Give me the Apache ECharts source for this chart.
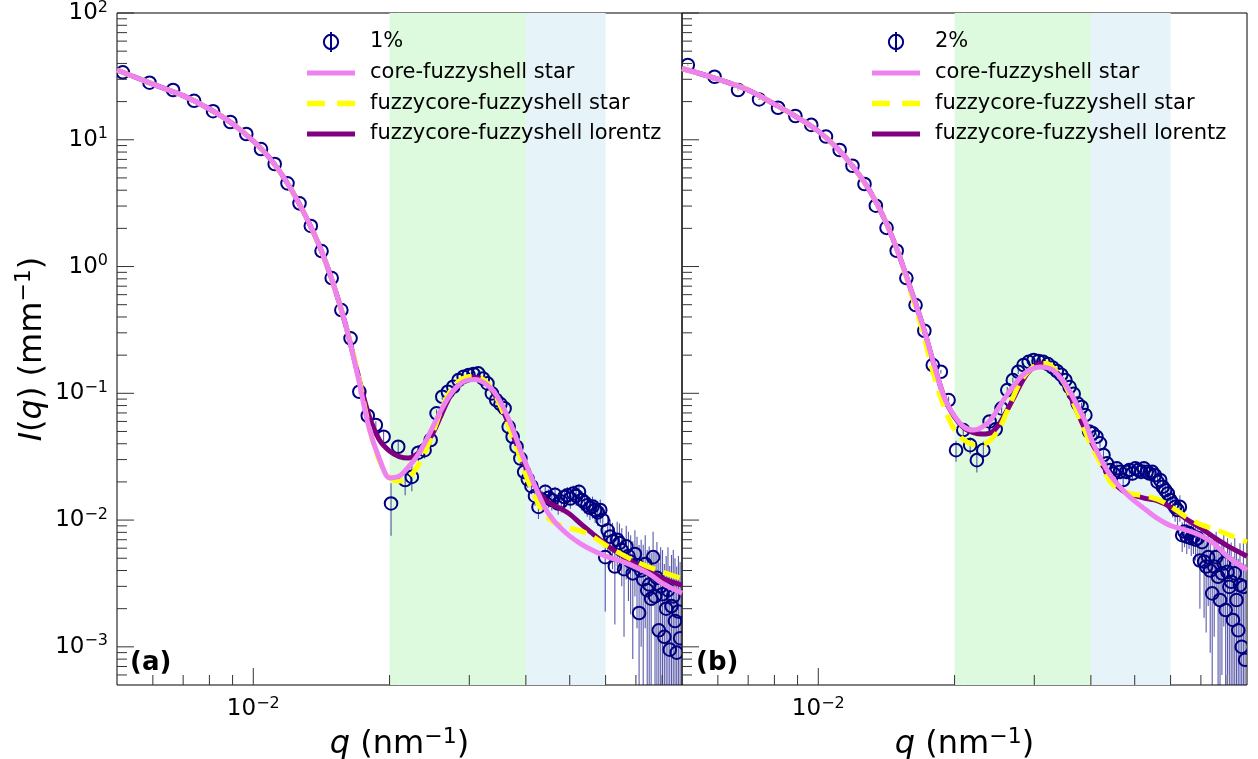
<!DOCTYPE html>
<html>
<head>
<meta charset="utf-8">
<script src="https://cdn.jsdelivr.net/npm/echarts@6/dist/echarts.min.js"></script>
<style>
  html, body { margin: 0; padding: 0; background: #fff; }
  #chart { width: 1258px; height: 759px; }
</style>
</head>
<body>
<div id="chart"></div>
<script>
// Scattering vector grid shared by both measurements (nm^-1)
const qGrid = [
  0.00515, 0.0059, 0.00665, 0.0074, 0.00815, 0.0089, 0.00965, 0.0104, 0.01115, 0.0119,
  0.01265, 0.0134, 0.01415, 0.0149, 0.01565, 0.0164, 0.01715, 0.0179, 0.01865, 0.0194,
  0.02015, 0.0209, 0.02165, 0.0224, 0.02315, 0.0239, 0.02465, 0.0254, 0.02615, 0.0269,
  0.02765, 0.0284, 0.02915, 0.0299, 0.03065, 0.0314, 0.03215, 0.0329, 0.03365, 0.0344,
  0.03515, 0.0359, 0.03665, 0.0374, 0.03815, 0.0389, 0.03965, 0.0404, 0.04115, 0.0419,
  0.04265, 0.0434, 0.04415, 0.0449, 0.04565, 0.0464, 0.04715, 0.0479, 0.04865, 0.0494,
  0.05015, 0.0509, 0.05165, 0.0524, 0.05315, 0.0539, 0.05465, 0.0554, 0.05615, 0.0569,
  0.05765, 0.0584, 0.05915, 0.0599, 0.06065, 0.0614, 0.06215, 0.0629, 0.06365, 0.0644,
  0.06515, 0.0659, 0.06665, 0.0674, 0.06815, 0.0689, 0.06965, 0.0704, 0.07115, 0.0719,
  0.07265, 0.0734, 0.07415, 0.0749, 0.07565, 0.0764, 0.07715, 0.0779, 0.07865, 0.0794,
  0.08015, 0.0809, 0.08165, 0.0824, 0.08315, 0.0839, 0.08465, 0.0854, 0.08615, 0.0869, 0.08765
];

// 1% sample: intensity and its uncertainty (mm^-1)
const intensity1 = [
  34.05, 28.2, 24.7, 20.3, 16.8, 13.8, 11.1, 8.45, 6.44, 4.53,
  3.15, 2.09, 1.325, 0.811, 0.4535, 0.2713, 0.1028, 0.0665, 0.0562, 0.0454,
  0.01353, 0.0379, 0.0207, 0.0219, 0.034, 0.0356, 0.0428, 0.0695, 0.0939, 0.1028,
  0.1127, 0.127, 0.135, 0.139, 0.142, 0.1436, 0.131, 0.1197, 0.0998, 0.0885,
  0.0822, 0.076, 0.0544, 0.0454, 0.0379, 0.0306, 0.024, 0.021, 0.0185, 0.0155,
  0.0127, 0.0145, 0.0167, 0.015, 0.0144, 0.0158, 0.0135, 0.014, 0.0152, 0.0157,
  0.0148, 0.0162, 0.0155, 0.0167, 0.0144, 0.0138, 0.0131, 0.0125, 0.0128, 0.012,
  0.0115, 0.012, 0.01, 0.0051, 0.0083, 0.0074, 0.0068, 0.0043, 0.007, 0.0066,
  0.0058, 0.0041, 0.0062, 0.0052, 0.0047, 0.0038, 0.0054, 0.0044, 0.00185, 0.004,
  0.0034, 0.0045, 0.0028, 0.0031, 0.0024, 0.0051, 0.0025, 0.0035, 0.00135, 0.003,
  0.0026, 0.0012, 0.002, 0.0028, 0.00095, 0.0021, 0.0025, 0.0016, 0.0009, 0.0019, 0.00117
];
const error1 = [
  0.3, 0.25, 0.2, 0.17, 0.14, 0.11, 0.09, 0.07, 0.05, 0.035,
  0.025, 0.017, 0.011, 0.007, 0.004, 0.0025, 0.004, 0.004, 0.004, 0.005,
  0.006, 0.005, 0.005, 0.005, 0.005, 0.005, 0.005, 0.005, 0.005, 0.005,
  0.005, 0.005, 0.005, 0.005, 0.005, 0.005, 0.005, 0.005, 0.005, 0.005,
  0.005, 0.005, 0.003, 0.003, 0.003, 0.003, 0.003, 0.003, 0.0025, 0.0025,
  0.0025, 0.0025, 0.0025, 0.0025, 0.0025, 0.0025, 0.0025, 0.0025, 0.0025, 0.0025,
  0.0025, 0.0025, 0.0025, 0.0025, 0.0025, 0.0025, 0.0025, 0.0025, 0.0025, 0.0025,
  0.0025, 0.0025, 0.0026, 0.0032, 0.0026, 0.0027, 0.0027, 0.0028, 0.0027, 0.0028,
  0.0028, 0.0029, 0.0028, 0.0029, 0.0029, 0.003, 0.0029, 0.003, 0.0045, 0.003,
  0.003, 0.0031, 0.003, 0.0031, 0.0031, 0.003, 0.0031, 0.0032, 0.0033, 0.0031,
  0.0032, 0.0033, 0.0032, 0.0033, 0.0034, 0.0032, 0.0033, 0.0034, 0.0034, 0.0033, 0.0035
];

// 2% sample: intensity and its uncertainty (mm^-1)
const intensity2 = [
  38.9, 31.4, 24.7, 20.8, 17.9, 15.4, 13.1, 10.6, 8.3, 6.24,
  4.48, 3.02, 2.02, 1.332, 0.811, 0.4966, 0.3113, 0.167, 0.148, 0.0884,
  0.0356, 0.0513, 0.039, 0.0297, 0.0356, 0.06, 0.052, 0.076, 0.106, 0.127,
  0.148, 0.167, 0.177, 0.183, 0.18, 0.177, 0.17, 0.16, 0.15, 0.14,
  0.127, 0.112, 0.099, 0.083, 0.078, 0.0673, 0.05, 0.0483, 0.0454, 0.0403,
  0.0326, 0.028, 0.0248, 0.0233, 0.0256, 0.024, 0.0207, 0.024, 0.0248, 0.0233,
  0.0256, 0.0248, 0.024, 0.0256, 0.024, 0.0233, 0.024, 0.0226, 0.02, 0.0207,
  0.0183, 0.0172, 0.0162, 0.0144, 0.0135, 0.0127, 0.012, 0.0127, 0.0076, 0.0081,
  0.0074, 0.0079, 0.0072, 0.0074, 0.007, 0.0072, 0.0048, 0.0067, 0.0047, 0.0043,
  0.0051, 0.004, 0.00264, 0.0043, 0.0051, 0.00357, 0.00234, 0.0038, 0.00455, 0.00195,
  0.0039, 0.00297, 0.00326, 0.00163, 0.0038, 0.00234, 0.00135, 0.00307, 0.001, 0.00297, 0.00079
];
const error2 = [
  0.35, 0.28, 0.2, 0.17, 0.15, 0.12, 0.1, 0.08, 0.06, 0.045,
  0.03, 0.02, 0.014, 0.009, 0.005, 0.003, 0.004, 0.005, 0.005, 0.006,
  0.0067, 0.006, 0.006, 0.006, 0.006, 0.006, 0.006, 0.006, 0.006, 0.006,
  0.006, 0.006, 0.006, 0.006, 0.006, 0.006, 0.006, 0.006, 0.006, 0.006,
  0.006, 0.006, 0.006, 0.006, 0.006, 0.005, 0.003, 0.003, 0.003, 0.003,
  0.003, 0.003, 0.003, 0.003, 0.003, 0.003, 0.003, 0.003, 0.003, 0.003,
  0.003, 0.003, 0.003, 0.003, 0.003, 0.003, 0.003, 0.003, 0.003, 0.003,
  0.003, 0.003, 0.003, 0.003, 0.003, 0.003, 0.003, 0.003, 0.002, 0.002,
  0.002, 0.002, 0.002, 0.002, 0.0022, 0.0022, 0.0028, 0.0027, 0.003, 0.003,
  0.003, 0.0031, 0.0032, 0.0031, 0.003, 0.0032, 0.0033, 0.0032, 0.0031, 0.0034,
  0.0033, 0.0033, 0.0034, 0.0035, 0.0034, 0.0035, 0.0036, 0.0035, 0.0036, 0.0036, 0.0037
];

// Model curves sampled on their own q grid
const qModel = [
  0.005, 0.006, 0.007, 0.008, 0.009, 0.010, 0.011, 0.012, 0.013, 0.014, 0.015, 0.016,
  0.017, 0.018, 0.019, 0.020, 0.021, 0.022, 0.023, 0.024, 0.025, 0.026, 0.027, 0.028,
  0.029, 0.030, 0.031, 0.032, 0.033, 0.034, 0.035, 0.036, 0.037, 0.038, 0.039, 0.040,
  0.042, 0.044, 0.046, 0.048, 0.050, 0.053, 0.056, 0.060, 0.065, 0.070, 0.075, 0.080, 0.0885
];
const coreStar1 = [
  35.5, 27.5, 22.3, 17.5, 13.4, 9.77, 6.80, 4.32, 2.57, 1.451, 0.741, 0.3453,
  0.1393, 0.0541, 0.0303, 0.0215, 0.0222, 0.0262, 0.032, 0.0415, 0.0556, 0.0737, 0.0934, 0.11,
  0.1226, 0.1276, 0.1283, 0.1237, 0.115, 0.1032, 0.0876, 0.0718, 0.0577, 0.0451, 0.0347, 0.0279,
  0.0182, 0.01266, 0.00999, 0.00849, 0.00747, 0.00646, 0.0058, 0.00519, 0.00474, 0.00425, 0.00375, 0.00318, 0.00265
];
const fuzzyStar1 = [
  35.5, 27.5, 22.3, 17.5, 13.4, 9.77, 6.80, 4.32, 2.57, 1.451, 0.741, 0.3453,
  0.147, 0.0551, 0.0292, 0.0218, 0.0203, 0.02144, 0.02617, 0.035, 0.0503, 0.0737, 0.0986, 0.1182,
  0.1306, 0.1355, 0.1368, 0.1306, 0.1182, 0.1013, 0.0822, 0.0649, 0.0503, 0.0387, 0.03, 0.02263,
  0.0149, 0.01114, 0.00963, 0.00904, 0.00864, 0.00818, 0.00747, 0.00634, 0.00539, 0.0047, 0.00425, 0.00389, 0.00345
];
const fuzzyLorentz1 = [
  35.5, 27.5, 22.3, 17.5, 13.4, 9.77, 6.80, 4.32, 2.57, 1.451, 0.741, 0.3453,
  0.145, 0.0673, 0.0428, 0.035, 0.03168, 0.03083, 0.03316, 0.039, 0.0494, 0.0673, 0.09, 0.11,
  0.1248, 0.1318, 0.1331, 0.1272, 0.1161, 0.1004, 0.083, 0.0667, 0.0527, 0.0412, 0.0326, 0.02617,
  0.0182, 0.01464, 0.01312, 0.01221, 0.01114, 0.00929, 0.00789, 0.00646, 0.00529, 0.00449, 0.00396, 0.00348, 0.00307
];
const coreStar2 = [
  36.5, 30.1, 24.7, 19.1, 14.98, 11.7, 8.61, 5.98, 3.94, 2.37, 1.301, 0.664,
  0.3453, 0.17, 0.0917, 0.0661, 0.0541, 0.0513, 0.0541, 0.0615, 0.0764, 0.0951, 0.114, 0.1343,
  0.1497, 0.1581, 0.161, 0.1595, 0.1525, 0.1368, 0.1204, 0.1022, 0.0852, 0.0711, 0.0582, 0.0443,
  0.03083, 0.02305, 0.01887, 0.01603, 0.01411, 0.01199, 0.01036, 0.00904, 0.00833, 0.00754, 0.00646, 0.00519, 0.00403
];
const fuzzyStar2 = [
  36.5, 30.1, 24.7, 19.1, 14.98, 11.7, 8.61, 5.98, 3.94, 2.37, 1.301, 0.629,
  0.3097, 0.1393, 0.0764, 0.0513, 0.0428, 0.0394, 0.0394, 0.0428, 0.0513, 0.0692, 0.0951, 0.1248,
  0.147, 0.164, 0.1716, 0.1716, 0.1595, 0.1418, 0.1193, 0.096, 0.0764, 0.0604, 0.0486, 0.039,
  0.02815, 0.0203, 0.01755, 0.01647, 0.01589, 0.01545, 0.01464, 0.01288, 0.01055, 0.00921, 0.00849, 0.00775, 0.0067
];
const fuzzyLorentz2 = [
  36.5, 30.1, 24.7, 19.1, 14.98, 11.7, 8.61, 5.98, 3.94, 2.37, 1.301, 0.664,
  0.3453, 0.17, 0.0917, 0.065, 0.0531, 0.049, 0.0477, 0.0486, 0.0561, 0.0711, 0.0917, 0.1182,
  0.1444, 0.1625, 0.1716, 0.17, 0.1581, 0.1393, 0.1172, 0.0951, 0.0764, 0.0615, 0.0503, 0.042,
  0.0303, 0.02144, 0.0182, 0.01632, 0.0156, 0.01477, 0.01424, 0.01266, 0.01018, 0.00864, 0.00727, 0.00629, 0.00519
];

// Highlighted q ranges and their fills
const bandEdges = [[0.02, 0.04], [0.04, 0.06]];
const bandColors = ['#defade', '#e6f3f8'];

// Tick positions on the log axes
const xMajorTicks = [0.01];
const xMinorTicks = [0.006, 0.007, 0.008, 0.009, 0.02, 0.03, 0.04, 0.05, 0.06, 0.07, 0.08];
const yMajorTicks = [0.001, 0.01, 0.1, 1, 10, 100];
const yMinorTicks = [
  0.0006, 0.0007, 0.0008, 0.0009,
  0.002, 0.003, 0.004, 0.005, 0.006, 0.007, 0.008, 0.009,
  0.02, 0.03, 0.04, 0.05, 0.06, 0.07, 0.08, 0.09,
  0.2, 0.3, 0.4, 0.5, 0.6, 0.7, 0.8, 0.9,
  2, 3, 4, 5, 6, 7, 8, 9,
  20, 30, 40, 50, 60, 70, 80, 90
];

const FONT = "'DejaVu Sans', sans-serif";
const X_MIN = 0.005, X_MAX = 0.0885, Y_MIN = 0.0005, Y_MAX = 100;
const NAVY = '#000080';

const chart = echarts.init(document.getElementById('chart'));

function powerLabel(v) {
  const e = Math.log10(v);
  const r = Math.round(e);
  if (Math.abs(e - r) > 1e-6) return '';
  return '{b|10}{s|' + (r < 0 ? '\u2212' + (-r) : String(r)) + '}';
}
const tickRich = {
  b: { fontSize: 23, lineHeight: 27, fontFamily: FONT, color: '#000' },
  s: { fontSize: 16, lineHeight: 16, fontFamily: FONT, color: '#000', verticalAlign: 'top' }
};
const nameRich = {
  i: { fontStyle: 'italic', fontSize: 32, lineHeight: 38, fontFamily: FONT, color: '#000' },
  s: { fontSize: 22, lineHeight: 22, fontFamily: FONT, color: '#000', verticalAlign: 'top' }
};

function renderPoint(params, api) {
  const q = api.value(0), v = api.value(1), e = api.value(2);
  const c = api.coord([q, v]);
  const lo = api.coord([q, Math.max(v - e, Y_MIN * 0.3)]);
  const hi = api.coord([q, v + e]);
  return {
    type: 'group',
    children: [
      { type: 'line', shape: { x1: c[0], y1: lo[1], x2: c[0], y2: hi[1] },
        style: { stroke: 'rgba(0,0,128,0.65)', lineWidth: 1.1 } },
      { type: 'circle', shape: { cx: c[0], cy: c[1], r: 6.3 },
        style: { fill: 'none', stroke: NAVY, lineWidth: 2 } }
    ]
  };
}

function renderBand(params, api) {
  const cs = params.coordSys;
  const x0 = api.coord([api.value(0), 1])[0];
  const x1 = api.coord([api.value(1), 1])[0];
  return { type: 'rect', shape: { x: x0, y: cs.y, width: x1 - x0, height: cs.height },
           style: { fill: bandColors[params.dataIndex] } };
}

function renderXTick(params, api) {
  const cs = params.coordSys;
  const x = api.coord([api.value(0), 1])[0];
  const len = api.value(2) ? 17 : 10;
  const yb = cs.y + cs.height;
  return { type: 'line', shape: { x1: x, y1: yb, x2: x, y2: yb - len },
           style: { stroke: '#333', lineWidth: 1 } };
}
function renderYTick(params, api) {
  const cs = params.coordSys;
  const y = api.coord([0.01, api.value(1)])[1];
  const len = api.value(2) ? 17 : 10;
  return { type: 'line', shape: { x1: cs.x, y1: y, x2: cs.x + len, y2: y },
           style: { stroke: '#333', lineWidth: 1 } };
}

const curveDefs = [
  { name: 'fuzzycore-fuzzyshell lorentz', color: '#800080', type: 'solid', z: 4 },
  { name: 'fuzzycore-fuzzyshell star', color: '#ffff00', type: [17, 9], z: 5 },
  { name: 'core-fuzzyshell star', color: '#ee82ee', type: 'solid', z: 6 }
];

function panelSeries(idx, label, intensity, error, curves) {
  const list = [];
  list.push({
    type: 'custom', xAxisIndex: idx, yAxisIndex: idx, silent: true, z: 1,
    encode: { x: [0, 1], y: 2 },
    data: bandEdges.map(b => [b[0], b[1], 1]),
    renderItem: renderBand
  });
  list.push({
    type: 'custom', name: label, xAxisIndex: idx, yAxisIndex: idx, clip: true, z: 3,
    itemStyle: { color: NAVY },
    encode: { x: 0, y: 1 },
    data: qGrid.map((q, i) => [q, intensity[i], error[i]]),
    renderItem: renderPoint
  });
  curveDefs.forEach((d, k) => {
    list.push({
      type: 'line', name: d.name, xAxisIndex: idx, yAxisIndex: idx, z: d.z,
      symbol: 'none', smooth: 0.3, clip: true,
      itemStyle: { color: d.color },
      lineStyle: { color: d.color, width: 5, type: d.type },
      data: qModel.map((q, i) => [q, curves[k][i]])
    });
  });
  list.push({
    type: 'custom', xAxisIndex: idx, yAxisIndex: idx, silent: true, z: 8,
    encode: { x: 0, y: 1 },
    data: xMajorTicks.map(v => [v, 1, 1]).concat(xMinorTicks.map(v => [v, 1, 0])),
    renderItem: renderXTick
  });
  list.push({
    type: 'custom', xAxisIndex: idx, yAxisIndex: idx, silent: true, z: 8,
    encode: { x: 0, y: 1 },
    data: yMajorTicks.map(v => [0.01, v, 1]).concat(yMinorTicks.map(v => [0.01, v, 0])),
    renderItem: renderYTick
  });
  return list;
}

// Legend glyphs: marker with error bar, solid line sample, dashed line sample
const pointIcon = 'path://M0,14A10,10 0 1,1 20,14A10,10 0 1,1 0,14ZM10,0L10,28';
const solidIcon = 'path://M0,0H48V5H0Z';
const dashIcon = 'path://M0,0H16V5H0ZM27,0H43V5H27Z';
function legendFor(left, label) {
  return {
    orient: 'vertical', left: left, top: 31, padding: 0,
    itemWidth: 48, itemHeight: 20, itemGap: 9.5,
    selectedMode: false,
    textStyle: { fontSize: 21, lineHeight: 21, fontFamily: FONT, color: '#000', padding: [0, 0, 0, 10] },
    data: [
      { name: label, icon: pointIcon,
        itemStyle: { color: 'rgba(0,0,0,0)', borderColor: NAVY, borderWidth: 2 } },
      { name: 'core-fuzzyshell star', icon: solidIcon, itemStyle: { color: '#ee82ee', borderWidth: 0 } },
      { name: 'fuzzycore-fuzzyshell star', icon: dashIcon, itemStyle: { color: '#ffff00', borderWidth: 0 } },
      { name: 'fuzzycore-fuzzyshell lorentz', icon: solidIcon, itemStyle: { color: '#800080', borderWidth: 0 } }
    ]
  };
}

const gridBox = {
  top: 13, width: 565, height: 672, show: true, borderColor: '#000', borderWidth: 1,
  backgroundColor: 'transparent', containLabel: false, outerBoundsMode: 'none'
};

chart.setOption({
  animation: false,
  backgroundColor: '#fff',
  grid: [Object.assign({ left: 117 }, gridBox), Object.assign({ left: 682 }, gridBox)],
  xAxis: [0, 1].map(i => ({
    type: 'log', logBase: 10, gridIndex: i, min: X_MIN, max: X_MAX,
    axisLine: { show: false }, axisTick: { show: false }, splitLine: { show: false },
    axisLabel: { formatter: powerLabel, rich: tickRich, margin: 11 },
    name: '{i|q} (nm{s|\u22121})', nameLocation: 'middle', nameGap: 29,
    nameTextStyle: { fontSize: 32, lineHeight: 38, fontFamily: FONT, color: '#000', rich: nameRich }
  })),
  yAxis: [0, 1].map(i => ({
    type: 'log', logBase: 10, gridIndex: i, min: Y_MIN, max: Y_MAX,
    axisLine: { show: false }, axisTick: { show: false }, splitLine: { show: false },
    axisLabel: { show: i === 0, formatter: powerLabel, rich: tickRich, margin: 9 },
    name: i === 0 ? '{i|I}({i|q}) (mm{s|\u22121})' : '',
    nameLocation: 'middle', nameGap: 63, nameRotate: 90,
    nameTextStyle: { fontSize: 32, lineHeight: 38, fontFamily: FONT, color: '#000', rich: nameRich }
  })),
  legend: [legendFor(307, '1%'), legendFor(872, '2%')],
  graphic: [
    { type: 'text', left: 130, top: 650, z: 100, style: { text: '(a)', font: 'bold 26px ' + FONT, fill: '#000' } },
    { type: 'text', left: 696, top: 650, z: 100, style: { text: '(b)', font: 'bold 26px ' + FONT, fill: '#000' } }
  ],
  series: panelSeries(0, '1%', intensity1, error1, [fuzzyLorentz1, fuzzyStar1, coreStar1])
    .concat(panelSeries(1, '2%', intensity2, error2, [fuzzyLorentz2, fuzzyStar2, coreStar2]))
});
</script>
</body>
</html>
